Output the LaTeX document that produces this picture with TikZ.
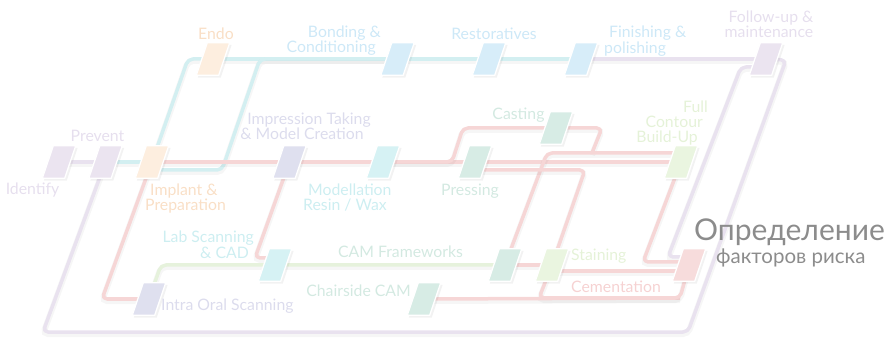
\documentclass[tikz,border=0pt]{standalone}
\usepackage{fontspec}
\setmainfont{Lato}
\definecolor{lp}{HTML}{E9E2EF}
\definecolor{lc}{HTML}{D3EFF1}
\definecolor{lr}{HTML}{F6D6D6}
\definecolor{lg}{HTML}{E6F2DC}
\definecolor{bLav}{HTML}{EBE4F0}
\definecolor{bOrange}{HTML}{FDEEDF}
\definecolor{bBlue}{HTML}{D7EDF9}
\definecolor{bPeri}{HTML}{DFE0EF}
\definecolor{bCyan}{HTML}{D6F2F4}
\definecolor{bTeal}{HTML}{D7ECE5}
\definecolor{bGreen}{HTML}{EAF5E0}
\definecolor{bPink}{HTML}{F7DCDC}
\definecolor{tOrange}{HTML}{F9DFC6}
\definecolor{tBlue}{HTML}{CDE8F7}
\definecolor{tLav}{HTML}{E6DFEE}
\definecolor{tPeri}{HTML}{DCDCED}
\definecolor{tCyan}{HTML}{CDEEF1}
\definecolor{tTeal}{HTML}{D3E9E1}
\definecolor{tGreen}{HTML}{E5F2D8}
\definecolor{tRed}{HTML}{F6D2D2}
\definecolor{tGray}{HTML}{8C8C8C}
\tikzset{
  stn/.style={inner sep=0pt, minimum width=22pt, minimum height=32pt},
  track/.style={line width=3.5pt, rounded corners=5pt, line join=round,
    preaction={draw=black, draw opacity=0.035, line width=6pt, transform canvas={yshift=-2pt}}},
  lbl/.style={inner sep=0pt, font=\fontsize{15.8}{18}\selectfont, yshift=-2.5pt},
}
\newcommand\stationbox[2]{%
\fill[black, opacity=0.05] ([xshift=7pt,yshift=-2pt]#1.north west) -- ([xshift=7.5pt,yshift=-2pt]#1.north east) -- ([xshift=-3.5pt,yshift=-2.5pt]#1.south east) -- ([xshift=-4pt,yshift=-2.5pt]#1.south west) -- cycle;
\fill[#2, draw=white, line width=1.3pt] ([xshift=5.5pt]#1.north west) -- ([xshift=5.5pt]#1.north east) -- ([xshift=-5.5pt]#1.south east) -- ([xshift=-5.5pt]#1.south west) -- cycle;}
\begin{document}
\begin{tikzpicture}[x=1pt,y=-1pt]
\useasboundingbox (0,0) rectangle (892,339);
% station anchors
\node[stn] (ident) at (59,162) {};
\node[stn] (prev) at (105.5,162) {};
\node[stn] (impl) at (152,162) {};
\node[stn] (endo) at (213,59) {};
\node[stn] (bond) at (397.5,59) {};
\node[stn] (rest) at (489,59) {};
\node[stn] (fin) at (581,59) {};
\node[stn] (foll) at (766,59) {};
\node[stn] (impr) at (289.5,162) {};
\node[stn] (model) at (383,162) {};
\node[stn] (press) at (475,162) {};
\node[stn] (cast) at (556,128) {};
\node[stn] (full) at (681,162) {};
\node[stn] (lab) at (275,265) {};
\node[stn] (cam) at (505,265) {};
\node[stn] (stain) at (552,265) {};
\node[stn] (cem) at (689,265) {};
\node[stn] (intra) at (149,299) {};
\node[stn] (chair) at (424,299) {};
% purple tracks
\draw[track, lp] (ident.center) -- (prev.center);
\draw[track, lp] (prev.center) -- (43,332) -- (688,332) -- (786,60) -- (foll.center);
\draw[track, lp] (fin.center) -- (foll.center);
\draw[track, lp] ([yshift=-8pt]foll.center) -- (741,67) -- (668,257) -- ([yshift=8pt]cem.center);
% cyan tracks
\draw[track, lc] (prev.center) -- (impl.center);
\draw[track, lc] (impl.center) -- (188,59) -- (endo.center);
\draw[track, lc] (endo.center) -- (bond.center) -- (rest.center) -- (fin.center);
\draw[track, lc] ([yshift=-8pt]impl.center) -- (222,170) -- (260,59) -- (bond.center);
% green track
\draw[track, lg] (intra.center) -- (161,265) -- (lab.center) -- (cam.center);
% red tracks
\draw[track, lr] (impl.center) -- (impr.center) -- (model.center) -- (press.center) -- (full.center);
\draw[track, lr] (model.center) -- (452,162) -- (463,128) -- (cast.center);
\draw[track, lr] (cast.center) -- (602,128) -- (592,153);
\draw[track, lr] (cam.center) -- (547,153) -- ([yshift=9pt]full.center);
\draw[track, lr] ([yshift=-8pt]press.center) -- (585,170) -- (stain.center) -- (539,298) -- (680,298);
\draw[track, lr] (chair.center) -- (680,298) -- (cem.center);
\draw[track, lr] (cam.center) -- (stain.center);
\draw[track, lr] ([yshift=-6pt]stain.center) -- ([yshift=-6pt]cem.center);
\draw[track, lr] (full.center) -- (643,262) -- ([yshift=3pt]cem.center);
\draw[track, lr] (impl.center) -- (102,299) -- (intra.center);
\draw[track, lr] (impr.center) -- (255,258) -- ([yshift=7pt]lab.center);
% station boxes
\stationbox{ident}{bLav}
\stationbox{prev}{bLav}
\stationbox{impl}{bOrange}
\stationbox{endo}{bOrange}
\stationbox{bond}{bBlue}
\stationbox{rest}{bBlue}
\stationbox{fin}{bBlue}
\stationbox{foll}{bLav}
\stationbox{impr}{bPeri}
\stationbox{model}{bCyan}
\stationbox{press}{bTeal}
\stationbox{cast}{bTeal}
\stationbox{full}{bGreen}
\stationbox{lab}{bCyan}
\stationbox{cam}{bTeal}
\stationbox{stain}{bGreen}
\stationbox{cem}{bPink}
\stationbox{intra}{bPeri}
\stationbox{chair}{bTeal}
% labels
\node[lbl, tOrange, anchor=mid] (tEndo) at (216,34) {Endo};
\node[lbl, tBlue, anchor=mid east] (tBond1) at (381,32) {Bonding \&};
\node[lbl, tBlue, anchor=mid east] (tBond2) at (376,47) {Conditioning};
\node[lbl, tBlue, anchor=mid] (tRest) at (494,34) {Restoratives};
\node[lbl, tBlue, anchor=mid west] (tFin1) at (609,32) {Finishing \&};
\node[lbl, tBlue, anchor=mid west] (tFin2) at (604,48.5) {polishing};
\node[lbl, tLav, anchor=mid] (tFoll1) at (771,17) {Follow-up \&};
\node[lbl, tLav, anchor=mid] (tFoll2) at (769,32) {maintenance};
\node[lbl, tLav, anchor=mid] (tPrev) at (97.5,136) {Prevent};
\node[lbl, tLav, anchor=mid] (tIdent) at (32.5,189) {Identify};
\node[lbl, tPeri, anchor=mid] (tImpr1) at (309,119) {Impression Taking};
\node[lbl, tPeri, anchor=mid] (tImpr2) at (302,134) {\& Model Creation};
\node[lbl, tOrange, anchor=mid west] (tImpl1) at (150,190) {Implant \&};
\node[lbl, tOrange, anchor=mid west] (tImpl2) at (145,205) {Preparation};
\node[lbl, tCyan, anchor=mid west] (tMod1) at (308,190) {Modellation};
\node[lbl, tCyan, anchor=mid west] (tMod2) at (303,205) {Resin / Wax};
\node[lbl, tTeal, anchor=mid] (tPress) at (470,190) {Pressing};
\node[lbl, tTeal, anchor=mid] (tCast) at (518.5,114) {Casting};
\node[lbl, tGreen, anchor=mid east] (tFull1) at (708,107) {Full};
\node[lbl, tGreen, anchor=mid east] (tFull2) at (703,122) {Contour};
\node[lbl, tGreen, anchor=mid east] (tFull3) at (698,137) {Build-Up};
\node[lbl, tCyan, anchor=mid east] (tLab1) at (254,237.5) {Lab Scanning};
\node[lbl, tCyan, anchor=mid east] (tLab2) at (249,253.5) {\& CAD};
\node[lbl, tTeal, anchor=mid] (tCam) at (400.5,252) {CAM Frameworks};
\node[lbl, tGreen, anchor=mid west] (tStain) at (571,255) {Staining};
\node[lbl, tRed, anchor=mid west] (tCem) at (571,287) {Cementation};
\node[lbl, tTeal, anchor=mid east] (tChair) at (411,291) {Chairside CAM};
\node[lbl, tPeri, anchor=mid west] (tIntra) at (161,305) {Intra Oral Scanning};
\node[inner sep=0pt, anchor=base west, text=tGray, font=\fontsize{30}{32}\selectfont] (tTitle1) at (694,240.5) {Определение};
\node[inner sep=0pt, anchor=base west, text=tGray, font=\fontsize{20.5}{22}\selectfont] (tTitle2) at (716,264) {факторов риска};
\end{tikzpicture}
\end{document}
